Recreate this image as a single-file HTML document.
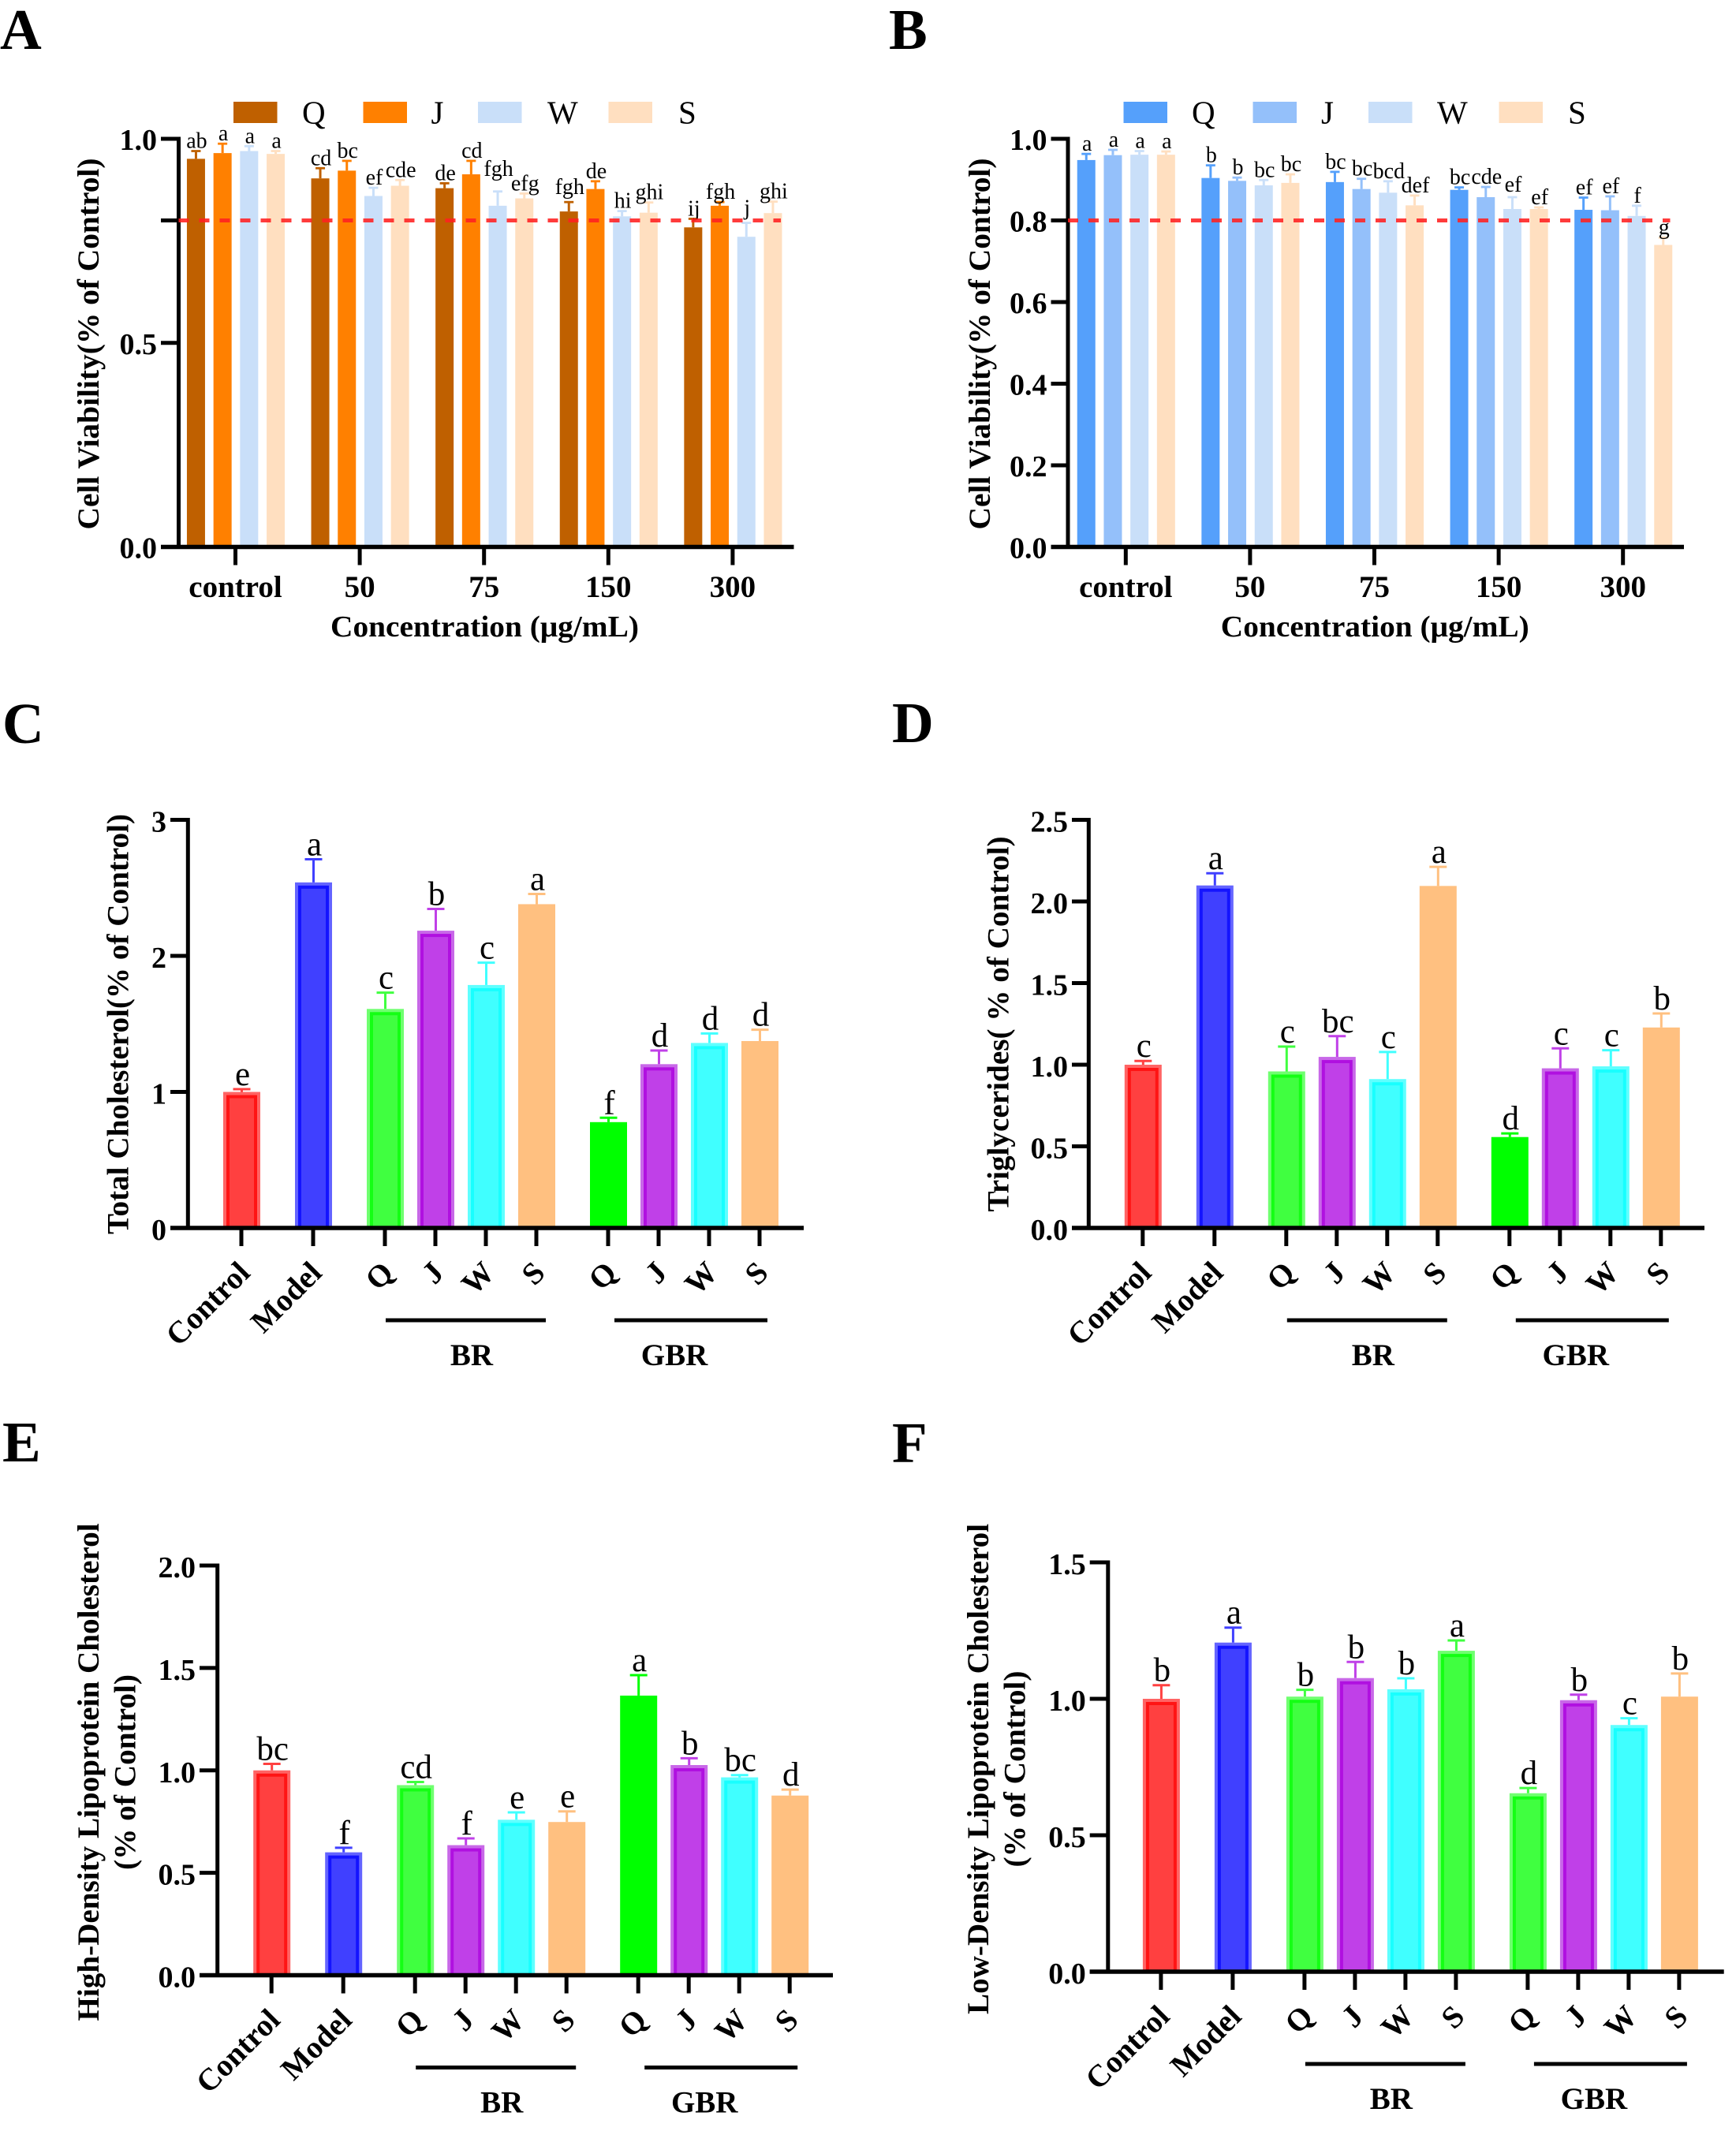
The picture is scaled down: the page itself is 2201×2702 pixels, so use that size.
<!DOCTYPE html>
<html lang="en">
<head>
<meta charset="utf-8">
<title>Cell viability and lipid panels A-F</title>
<style>
html,body{margin:0;padding:0;background:#fff;}
svg{display:block;}
text{font-family:"Liberation Serif",serif;fill:#000;}
</style>
</head>
<body>
<svg id="figure" xmlns="http://www.w3.org/2000/svg" width="2201" height="2702" viewBox="0 0 2201 2702">
<rect x="0" y="0" width="2201" height="2702" fill="#ffffff"></rect>
</svg>
<script>
// ---------- data ----------
const doseCats = ["control", "50", "75", "150", "300"];
const seriesNames = ["Q", "J", "W", "S"];

const aQ = [0.951, 0.903, 0.879, 0.822, 0.783];
const aJ = [0.965, 0.922, 0.913, 0.877, 0.836];
const aW = [0.970, 0.860, 0.836, 0.810, 0.760];
const aS = [0.963, 0.885, 0.854, 0.819, 0.818];
const aQTop = [0.970, 0.928, 0.891, 0.845, 0.804];
const aJTop = [0.988, 0.946, 0.946, 0.896, 0.845];
const aWTop = [0.982, 0.880, 0.871, 0.823, 0.794];
const aSTop = [0.970, 0.899, 0.866, 0.844, 0.846];
const aQLetters = ["ab", "cd", "de", "fgh", "ij"];
const aJLetters = ["a", "bc", "cd", "de", "fgh"];
const aWLetters = ["a", "ef", "fgh", "hi", "j"];
const aSLetters = ["a", "cde", "efg", "ghi", "ghi"];
const aTicks = [0, 0.5, 0.8, 1.0];
const aTickLabels = ["0.0", "0.5", "", "1.0"];

const bQ = [0.948, 0.904, 0.894, 0.875, 0.826];
const bJ = [0.960, 0.897, 0.877, 0.857, 0.825];
const bW = [0.961, 0.886, 0.868, 0.828, 0.811];
const bS = [0.961, 0.892, 0.837, 0.828, 0.740];
const bQTop = [0.963, 0.935, 0.919, 0.881, 0.856];
const bJTop = [0.973, 0.905, 0.902, 0.882, 0.859];
const bWTop = [0.970, 0.899, 0.896, 0.857, 0.836];
const bSTop = [0.969, 0.913, 0.861, 0.832, 0.758];
const bQLetters = ["a", "b", "bc", "bc", "ef"];
const bJLetters = ["a", "b", "bc", "cde", "ef"];
const bWLetters = ["a", "bc", "bcd", "ef", "f"];
const bSLetters = ["a", "bc", "def", "ef", "g"];
const bTicks = [0, 0.2, 0.4, 0.6, 0.8, 1.0];
const bTickLabels = ["0.0", "0.2", "0.4", "0.6", "0.8", "1.0"];

const lipidCats = ["Control", "Model", "Q", "J", "W", "S", "Q", "J", "W", "S"];

const cMeans = [1.0, 2.54, 1.61, 2.185, 1.786, 2.38, 0.778, 1.204, 1.36, 1.374];
const cTops = [1.02, 2.71, 1.73, 2.345, 1.95, 2.455, 0.81, 1.304, 1.43, 1.457];
const cLetters = ["e", "a", "c", "b", "c", "a", "f", "d", "d", "d"];
const cTicks = [0, 1, 2, 3];
const cTickLabels = ["0", "1", "2", "3"];

const dMeans = [1.0, 2.098, 0.959, 1.048, 0.912, 2.095, 0.557, 0.978, 0.99, 1.228];
const dTops = [1.023, 2.173, 1.111, 1.175, 1.078, 2.212, 0.579, 1.10, 1.089, 1.314];
const dLetters = ["c", "a", "c", "bc", "c", "a", "d", "c", "c", "b"];
const dTicks = [0, 0.5, 1.0, 1.5, 2.0, 2.5];
const dTickLabels = ["0.0", "0.5", "1.0", "1.5", "2.0", "2.5"];

const eMeans = [1.0, 0.60, 0.928, 0.635, 0.759, 0.748, 1.365, 1.026, 0.966, 0.877];
const eTops = [1.032, 0.622, 0.943, 0.668, 0.795, 0.80, 1.465, 1.059, 0.977, 0.906];
const eLetters = ["bc", "f", "cd", "f", "e", "e", "a", "b", "bc", "d"];
const eTicks = [0, 0.5, 1.0, 1.5, 2.0];
const eTickLabels = ["0.0", "0.5", "1.0", "1.5", "2.0"];

const fMeans = [1.0, 1.206, 1.008, 1.076, 1.035, 1.176, 0.654, 0.995, 0.904, 1.008];
const fTops = [1.05, 1.261, 1.033, 1.135, 1.075, 1.214, 0.673, 1.015, 0.929, 1.093];
const fLetters = ["b", "a", "b", "b", "b", "a", "d", "b", "c", "b"];
const fTicks = [0, 0.5, 1.0, 1.5];
const fTickLabels = ["0.0", "0.5", "1.0", "1.5"];

// ---------- drawing helpers ----------
const NS = "http://www.w3.org/2000/svg";
const root = document.getElementById("figure");
const RED = { fill: "#ff4040", band: "#ff1414", edge: "#ff6464" };
const BLUE = { fill: "#4040ff", band: "#1414ff", edge: "#6464ff" };
const GREEN = { fill: "#40ff40", band: "#14ff14", edge: "#70ff70" };
const PURPLE = { fill: "#c040e8", band: "#b010e0", edge: "#c868e8" };
const CYAN = { fill: "#40ffff", band: "#18ffff", edge: "#60ffff" };
const PEACH = { fill: "#ffc080", band: null, edge: "#ffc080" };
const PURE = { fill: "#00ff00", band: null, edge: "#00ff00" };
const standardStyles = [RED, BLUE, GREEN, PURPLE, CYAN, PEACH, PURE, PURPLE, CYAN, PEACH];
const fStyles = [RED, BLUE, GREEN, PURPLE, CYAN, GREEN, GREEN, PURPLE, CYAN, PEACH];

function make(tag, parent, props) {
  const el = document.createElementNS(NS, tag);
  for (const k in props) el.setAttribute(k, props[k]);
  parent.appendChild(el);
  return el;
}
function line(parent, x1, y1, x2, y2, color, w) {
  return make("line", parent, { x1: x1, y1: y1, x2: x2, y2: y2, stroke: color, "stroke-width": w });
}
function label(parent, str, x, y, size, weight, anchor) {
  const el = make("text", parent, { x: x, y: y, "font-size": size, "font-weight": weight, "text-anchor": anchor });
  el.textContent = str;
  return el;
}
function yScale(y0, yTop, max) {
  return function (v) { return y0 - (v / max) * (y0 - yTop); };
}
function lipidX(x0) {
  return function (i) {
    let gaps = 0;
    if (i >= 1) gaps++;
    if (i >= 2) gaps++;
    if (i >= 6) gaps++;
    return x0 + i * 64 + gaps * 27;
  };
}

function panelLetter(parent, str, x, y) {
  const el = label(parent, str, x, y, 73, "bold", "start");
  
  
}

function drawYAxis(parent, p, ticks, tickLabels, y) {
  const axis = line(parent, p.axisX, y(ticks[ticks.length - 1]) - 2.5, p.axisX, p.y0 + 2.5, "#000", 5);
  
  
  ticks.forEach(function (t, i) {
    const mark = line(parent, p.axisLeft, y(t), p.axisX, y(t), "#000", 5);
    
    
    if (tickLabels[i] !== "") {
      const txt = label(parent, tickLabels[i], p.axisLeft - 5, y(t) + p.tickDrop, p.tickSize, "bold", "end");
      
      
    }
  });
}
function drawXAxis(parent, p) {
  const axis = line(parent, p.axisLeft, p.y0, p.axisRight, p.y0, "#000", 5.5);
  
  
}
function yTitle(parent, str, x, cy, len, size) {
  const el = label(parent, str, x, cy, size, "bold", "middle");
  el.setAttribute("transform", "rotate(-90 " + x + " " + cy + ")");
  el.setAttribute("textLength", len);
  el.setAttribute("lengthAdjust", "spacingAndGlyphs");
  
  
}

function drawDosePanel(name, p, means, tops, letters, colors, ticks, tickLabels) {
  const g = make("g", root, {});
  
  
  const y = yScale(p.y0, p.yTop, 1);
  const x = function (c, s) { return p.x0 + c * 157.6 + (s - 1.5) * 33.7 + 0.5; };

  // legend
  seriesNames.forEach(function (nm, s) {
    const sw = make("rect", g, { x: p.legendSwatch[s], y: 129, width: 55.5, height: 27, fill: colors[s] });
    
    
    const t = label(g, nm, p.legendText[s], 156.5, 41, "normal", "start");
    
    
  });

  // bars, error bars, letters
  means.forEach(function (seriesVals, s) {
    seriesVals.forEach(function (v, c) {
      const cx = x(c, s);
      const stem = line(g, cx, y(tops[s][c]), cx, y(v), colors[s], 3);
      
      
      const cap = line(g, cx - 6, y(tops[s][c]), cx + 6, y(tops[s][c]), colors[s], 2.8);
      
      
      const bar = make("rect", g, { x: cx - 11.5, y: y(v), width: 23, height: p.y0 - y(v), fill: colors[s] });
      
      
      const lift = (p.letterLift && p.letterLift[c + "-" + s]) || 0;
      const t = label(g, letters[s][c], cx + 1, y(tops[s][c]) - 4 - lift, 28, "normal", "middle");
      
      
    });
  });

  drawYAxis(g, p, ticks, tickLabels, y);
  drawXAxis(g, p);

  doseCats.forEach(function (cat, c) {
    const tx = p.x0 + c * 157.6;
    const mark = line(g, tx, p.y0, tx, p.y0 + 23, "#000", 5);
    
    
    const t = label(g, cat, tx, 757, 39, "bold", "middle");
    
    
  });

  const xt = label(g, "Concentration (\u03bcg/mL)", p.x0 + 316, 807, 38, "bold", "middle");
  xt.setAttribute("textLength", 391);
  xt.setAttribute("lengthAdjust", "spacingAndGlyphs");
  
  

  yTitle(g, "Cell Viability(% of Control)", p.titleX, 436, 471, 39);

  const ref = line(g, p.axisX, y(0.8), p.refEnd, y(0.8), "#ff2020", 5);
  ref.setAttribute("stroke-dasharray", "13 13");
  ref.setAttribute("stroke-opacity", "0.88");
  
  
}

function drawLipidPanel(name, p, means, tops, letters, styles, ticks, tickLabels, max) {
  const g = make("g", root, {});
  
  
  const y = yScale(p.y0, p.yTop, max);
  const x = lipidX(p.x0);

  means.forEach(function (v, i) {
    const cx = x(i) + 0.5;
    const st = styles[i];
    const stem = line(g, cx, y(tops[i]), cx, y(v), st.fill, 3);
    
    
    const cap = line(g, cx - 11, y(tops[i]), cx + 11, y(tops[i]), st.fill, 3);
    
    
    const bar = make("rect", g, { x: cx - 23.5, y: y(v), width: 47, height: p.y0 - y(v), fill: st.fill });
    
    
    if (st.band) {
      bar.setAttribute("fill", st.edge);
      const inner = make("rect", g, { x: cx - 19.5, y: y(v) + 4, width: 39, height: Math.max(0, p.y0 - y(v) - 4), fill: st.band });
      
      
      const core = make("rect", g, { x: cx - 15.5, y: y(v) + 8, width: 31, height: Math.max(0, p.y0 - y(v) - 8), fill: st.fill });
      
      
    }
    const t = label(g, letters[i], cx + 1, y(tops[i]) - 5, 43, "normal", "middle");
    
    
  });

  drawYAxis(g, p, ticks, tickLabels, y);
  drawXAxis(g, p);

  lipidCats.forEach(function (cat, i) {
    const tx = x(i);
    const mark = line(g, tx, p.y0, tx, p.y0 + 23, "#000", 5);
    
    
    const lx = tx + 13;
    const ly = p.y0 + 59;
    const t = label(g, cat, lx, ly, 39.5, "bold", "end");
    t.setAttribute("transform", "rotate(-45 " + lx + " " + ly + ")");
    
    
  });

  const brLine = line(g, p.x0 + 183, p.y0 + 117, p.x0 + 386, p.y0 + 117, "#000", 5);
  
  
  const gbrLine = line(g, p.x0 + 473, p.y0 + 117, p.x0 + 667, p.y0 + 117, "#000", 5);
  
  
  const brText = label(g, "BR", p.x0 + 292, p.y0 + 174, 39, "bold", "middle");
  
  
  const gbrText = label(g, "GBR", p.x0 + 549, p.y0 + 174, 39, "bold", "middle");
  
  
}

// ---------- panels ----------
panelLetter(root, "A", 0, 62);
panelLetter(root, "B", 1127, 62);
panelLetter(root, "C", 3, 942);
panelLetter(root, "D", 1131, 941);
panelLetter(root, "E", 3, 1853);
panelLetter(root, "F", 1131, 1854);

const doseA = [aQ, aJ, aW, aS];
const doseATop = [aQTop, aJTop, aWTop, aSTop];
const doseALetters = [aQLetters, aJLetters, aWLetters, aSLetters];
drawDosePanel("panel-a-chart", {
  x0: 298.5, y0: 693.5, yTop: 176, axisX: 226.5, axisLeft: 204, axisRight: 1006.5,
  tickDrop: 14, tickSize: 38, titleX: 125, refEnd: 990,
  legendSwatch: [296, 460.5, 606, 771.5], legendText: [383, 546.5, 694, 860],
  letterLift: { "2-2": 16, "3-0": 6, "4-2": 6 }
}, doseA, doseATop, doseALetters, ["#bf6000", "#ff8000", "#c9dff9", "#ffdfc0"], aTicks, aTickLabels);

const doseB = [bQ, bJ, bW, bS];
const doseBTop = [bQTop, bJTop, bWTop, bSTop];
const doseBLetters = [bQLetters, bJLetters, bWLetters, bSLetters];
drawDosePanel("panel-b-chart", {
  x0: 1427.3, y0: 693.5, yTop: 176, axisX: 1354, axisLeft: 1332.5, axisRight: 2135,
  tickDrop: 14, tickSize: 38, titleX: 1255, refEnd: 2117.5,
  legendSwatch: [1424.5, 1588.5, 1735, 1900.5], legendText: [1511, 1675, 1822, 1988],
  letterLift: { "3-2": 3 }
}, doseB, doseBTop, doseBLetters, ["#55a0fb", "#94c0fa", "#c9dff9", "#ffdfc0"], bTicks, bTickLabels);

const pC = { x0: 306, y0: 1557, yTop: 1039.5, axisX: 238.3, axisLeft: 216, axisRight: 1019, tickDrop: 15, tickSize: 38 };
drawLipidPanel("panel-c-chart", pC, cMeans, cTops, cLetters, standardStyles, cTicks, cTickLabels, 3);
yTitle(root, "Total Cholesterol(% of Control)", 162.5, 1298.5, 533, 39);

const pD = { x0: 1448.8, y0: 1557, yTop: 1039.5, axisX: 1380.3, axisLeft: 1359, axisRight: 2161, tickDrop: 15, tickSize: 38 };
drawLipidPanel("panel-d-chart", pD, dMeans, dTops, dLetters, standardStyles, dTicks, dTickLabels, 2.5);
yTitle(root, "Triglycerides( % of Control)", 1278.5, 1298.5, 476, 39);

const pE = { x0: 344.2, y0: 2504.5, yTop: 1985, axisX: 275.7, axisLeft: 253, axisRight: 1056, tickDrop: 15, tickSize: 38 };
drawLipidPanel("panel-e-chart", pE, eMeans, eTops, eLetters, standardStyles, eTicks, eTickLabels, 2);
yTitle(root, "High-Density Lipoprotein Cholesterol", 125, 2247, 631, 39);
yTitle(root, "(% of Control)", 171.5, 2247, 248, 39);

const pF = { x0: 1471.9, y0: 2500, yTop: 1981, axisX: 1404.8, axisLeft: 1381.7, axisRight: 2185.7, tickDrop: 15, tickSize: 38 };
drawLipidPanel("panel-f-chart", pF, fMeans, fTops, fLetters, fStyles, fTicks, fTickLabels, 1.5);
yTitle(root, "Low-Density Lipoprotein Cholesterol", 1253, 2243, 622, 39);
yTitle(root, "(% of Control)", 1299.5, 2243, 249, 39);
</script>
</body>
</html>
